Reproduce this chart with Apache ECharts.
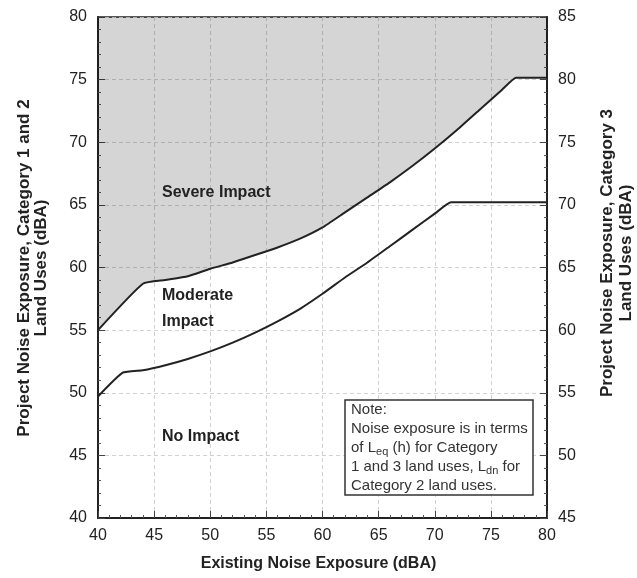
<!DOCTYPE html>
<html><head><meta charset="utf-8">
<script src="https://cdn.jsdelivr.net/npm/echarts@6/dist/echarts.min.js"></script>
<style>html,body{margin:0;padding:0;background:#fff}#c{width:637px;height:578px}</style>
</head><body><div id="c"></div>
<script>
// ---- data ----
const upperX = [40, 44, 46, 48, 50, 52, 54, 56, 58, 60, 62, 64, 66, 68, 70, 72, 74, 76, 77.25, 80];
const upperY = [55.0, 58.7, 59.0, 59.3, 59.9, 60.4, 61.0, 61.6, 62.3, 63.2, 64.4, 65.6, 66.8, 68.1, 69.5, 71.0, 72.6, 74.2, 75.15, 75.15];
const lowerX = [40, 42.2, 44, 46, 48, 50, 52, 54, 56, 58, 60, 62, 64, 66, 68, 70, 71.46, 80];
const lowerY = [49.7, 51.6, 51.8, 52.2, 52.7, 53.3, 54.0, 54.8, 55.7, 56.7, 57.9, 59.2, 60.4, 61.7, 63.0, 64.3, 65.2, 65.2];
const xTicks = [40, 45, 50, 55, 60, 65, 70, 75, 80];
const yLeftTicks = [40, 45, 50, 55, 60, 65, 70, 75, 80];
const yRightTicks = [45, 50, 55, 60, 65, 70, 75, 80, 85];
const xTitle = 'Existing Noise Exposure (dBA)';
const yLeftTitle = ['Project Noise Exposure, Category 1 and 2', 'Land Uses (dBA)'];
const yRightTitle = ['Project Noise Exposure, Category 3', 'Land Uses (dBA)'];
const regionLabels = ['Severe Impact', 'Moderate\nImpact', 'No Impact'];

const FONT = 'Liberation Sans, Arial, Helvetica, sans-serif';
const pairs = (xs, ys) => xs.map((x, i) => [x, ys[i]]);

const chart = echarts.init(document.getElementById('c'), null, {renderer: 'canvas'});
const axisCommon = {
  axisLine: {show: true, lineStyle: {color: '#222', width: 2}},
  axisTick: {show: true, inside: true, length: 7, lineStyle: {color: '#444', width: 1}},
  minorTick: {show: true, splitNumber: 5, length: 3, lineStyle: {color: '#555', width: 1}},
  axisLabel: {fontFamily: FONT, fontSize: 16, color: '#222'},
};
const gridLine = {show: true, lineStyle: {color: '#d2d2d2', type: [4, 3], width: 1}};
chart.setOption({
  animation: false,
  backgroundColor: '#fff',
  grid: {left: 98, right: 90, top: 17, bottom: 60, show: true, borderColor: '#222', borderWidth: 1.5, backgroundColor: 'transparent'},
  xAxis: Object.assign({
    type: 'value', min: xTicks[0], max: xTicks[xTicks.length - 1], interval: 5, splitLine: gridLine,
  }, axisCommon, {axisLabel: Object.assign({}, axisCommon.axisLabel, {margin: 10})}),
  yAxis: [
    Object.assign({
      type: 'value', position: 'left', min: yLeftTicks[0], max: yLeftTicks[yLeftTicks.length - 1], interval: 5, splitLine: gridLine,
    }, axisCommon, {axisLabel: Object.assign({}, axisCommon.axisLabel, {margin: 11})}),
    Object.assign({
      type: 'value', position: 'right', min: yRightTicks[0], max: yRightTicks[yRightTicks.length - 1], interval: 5,
      splitLine: {show: false},
    }, axisCommon, {axisLabel: Object.assign({}, axisCommon.axisLabel, {margin: 11})}),
  ],
  series: [
    {
      name: 'Severe threshold', type: 'line', data: pairs(upperX, upperY), showSymbol: false, symbol: 'none',
      smooth: 0.15, lineStyle: {color: '#222', width: 2},
      areaStyle: {origin: 'end', color: 'rgba(0,0,0,0.165)', opacity: 1}, z: 3,
    },
    {
      name: 'Moderate threshold', type: 'line', data: pairs(lowerX, lowerY), showSymbol: false, symbol: 'none',
      smooth: 0.15, lineStyle: {color: '#222', width: 2}, z: 3,
    },
  ],
});

const bold = (size) => ({fontFamily: FONT, fontSize: size, fontWeight: 'bold', fill: '#222'});
chart.setOption({
  graphic: [
    {type: 'text', left: 'center', top: 556, style: Object.assign({text: xTitle}, bold(16))},
    {type: 'text', x: 33, y: 268, rotation: Math.PI / 2,
      style: Object.assign({text: yLeftTitle.join('\n'), align: 'center', verticalAlign: 'middle', lineHeight: 17}, bold(17))},
    {type: 'text', x: 617, y: 253, rotation: Math.PI / 2,
      style: Object.assign({text: yRightTitle.join('\n'), align: 'center', verticalAlign: 'middle', lineHeight: 19}, bold(17))},
    {type: 'text', x: 162, y: 193, style: Object.assign({text: regionLabels[0], verticalAlign: 'middle'}, bold(16)), z: 10},
    {type: 'text', x: 162, y: 309, style: Object.assign({text: regionLabels[1], verticalAlign: 'middle', lineHeight: 26}, bold(16)), z: 10},
    {type: 'text', x: 162, y: 437, style: Object.assign({text: regionLabels[2], verticalAlign: 'middle'}, bold(16)), z: 10},
    {type: 'rect', shape: {x: 345, y: 400, width: 188, height: 95}, style: {fill: '#fff', stroke: '#333', lineWidth: 1.5}, z: 10},
    {type: 'text', x: 351, y: 400, z: 11,
      style: {
        text: '{t|Note:}\n{t|Noise exposure is in terms}\n{t|of L}{s|eq}{t| (h) for Category}\n{t|1 and 3 land uses, L}{s|dn}{t| for}\n{t|Category 2 land uses.}',
        rich: {
          t: {fontFamily: FONT, fontSize: 15, lineHeight: 19, fill: '#333', verticalAlign: 'middle'},
          s: {fontFamily: FONT, fontSize: 11, lineHeight: 11, fill: '#333', verticalAlign: 'bottom'},
        },
      }},
  ],
});
</script></body></html>
